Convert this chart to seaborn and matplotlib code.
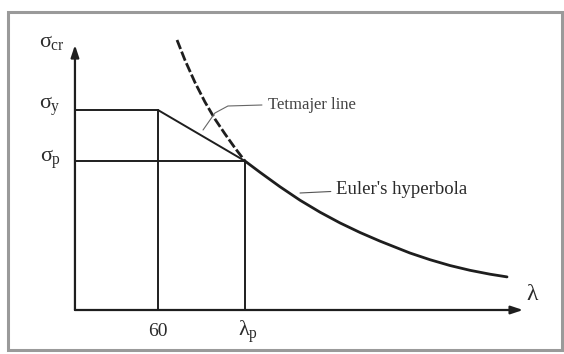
import matplotlib
matplotlib.use("Agg")
import matplotlib.pyplot as plt
import seaborn as sns
import pandas as pd
from matplotlib.patches import Rectangle

sns.set_theme(style="white")
plt.rcParams['font.family'] = ['Liberation Serif', 'DejaVu Serif']
plt.rcParams['mathtext.fontset'] = 'custom'
plt.rcParams['mathtext.rm'] = 'Liberation Serif'
plt.rcParams['mathtext.it'] = 'Liberation Serif'
plt.rcParams['mathtext.bf'] = 'Liberation Serif:bold'

# --- data ---
lam_y = 60.0          # end of plateau (λ = 60)
lam_p = 122.9         # proportional-limit slenderness λp
sigma_y = 200.0       # yield stress level
sigma_p = 149.0       # proportional-limit stress
lam_max = 324.0       # end of λ axis
sig_max = 265.0       # end of σ axis

# Euler hyperbola points
euler_dash_lam = [73.8, 79.5, 86.8, 94.0, 101.2, 108.5, 115.7, 122.9]
euler_dash_sig = [270.0, 250.0, 227.5, 208.0, 191.0, 176.0, 162.0, 149.0]
euler_solid_lam = [122.9, 133.8, 148.2, 162.7, 177.2, 191.6, 206.1, 220.5,
                   242.2, 256.7, 271.1, 285.6, 300.1, 312.4]
euler_solid_sig = [149.0, 137.7, 123.3, 109.8, 97.8, 87.1, 77.5, 68.9,
                   57.0, 50.3, 44.5, 39.7, 35.8, 33.1]

# leader lines for labels
tet_leader_lam = [92.6, 101.2, 110.6, 135.2]
tet_leader_sig = [180.0, 197.0, 204.0, 205.0]
eul_leader_lam = [162.7, 185.0]
eul_leader_sig = [117.0, 118.5]

W, H = 564, 354
fig = plt.figure(figsize=(W / 100, H / 100), dpi=100)
ax = fig.add_axes([0, 0, 1, 1])
ax.set_xlim(-54.2, 353.6)
ax.set_ylim(-44, 310)
ax.axis('off')

lc = '#1e1e1e'
lw = 1.4

def seg(xs, ys, **kw):
    df = pd.DataFrame({'x': xs, 'y': ys})
    sns.lineplot(data=df, x='x', y='y', sort=False, estimator=None, ax=ax, **kw)

# plateau and Tetmajer line
seg([0, lam_y], [sigma_y, sigma_y], color=lc, lw=lw)
seg([lam_y, lam_p], [sigma_y, sigma_p], color=lc, lw=lw)
# σp horizontal
seg([0, lam_p], [sigma_p, sigma_p], color=lc, lw=lw)
# verticals
seg([lam_y, lam_y], [0, sigma_y], color=lc, lw=lw)
seg([lam_p, lam_p], [0, sigma_p], color=lc, lw=lw)
# Euler hyperbola
seg(euler_dash_lam, euler_dash_sig, color=lc, lw=2.0, linestyle=(0, (3.5, 1.0)))
seg(euler_solid_lam, euler_solid_sig, color=lc, lw=2.0)
# leaders
seg(tet_leader_lam, tet_leader_sig, color='#666666', lw=0.8)
seg(eul_leader_lam, eul_leader_sig, color='#555555', lw=0.8)

# axes with arrows
ax.annotate('', xy=(lam_max, 0), xytext=(0, 0),
            arrowprops=dict(arrowstyle='-|>,head_length=0.6,head_width=0.2', color=lc, lw=1.6, shrinkA=0, shrinkB=0))
ax.annotate('', xy=(0, sig_max), xytext=(0, 0),
            arrowprops=dict(arrowstyle='-|>,head_length=0.6,head_width=0.2', color=lc, lw=1.6, shrinkA=0, shrinkB=0))

tc = '#2a2a2a'
ax.text(-16.6, 268, r'$\sigma_{cr}$', fontsize=16, ha='center', va='center', color=tc)
ax.text(-18, 204, r'$\sigma_{y}$', fontsize=16, ha='center', va='center', color=tc)
ax.text(-18, 151, r'$\sigma_{p}$', fontsize=16, ha='center', va='center', color=tc)
ax.text(lam_y, -22, '60', fontsize=14, ha='center', va='center', color=tc)
ax.text(lam_p + 2, -22, r'$\lambda_{p}$', fontsize=16, ha='center', va='center', color=tc)
ax.text(331, 15, r'$\lambda$', fontsize=17, ha='center', va='center', color=tc)
ax.text(139.5, 205, 'Tetmajer line', fontsize=12, ha='left', va='center', color='#444444')
ax.text(188.7, 120, "Euler's hyperbola", fontsize=13.5, ha='left', va='center', color=tc)

# outer frame
fig.patches.append(Rectangle((8 / W, 4 / H), 554 / W, 338 / H, transform=fig.transFigure,
                             fill=False, edgecolor='#9a9a9a', lw=2.2))

fig.savefig('out.png', dpi=100)
